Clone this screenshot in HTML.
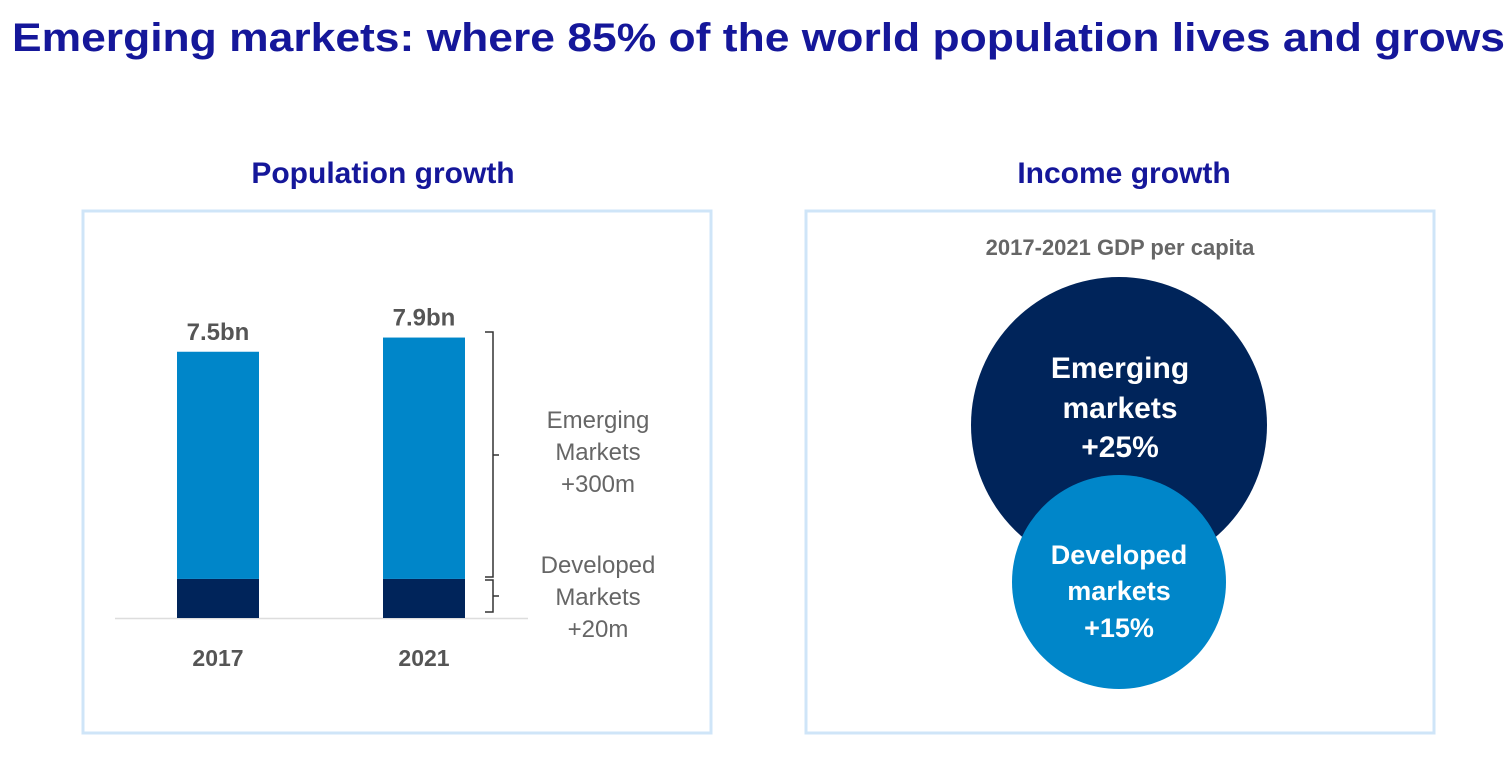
<!DOCTYPE html>
<html><head><meta charset="utf-8"><style>
body{margin:0;background:#fff;width:1512px;height:758px;overflow:hidden;font-family:"Liberation Sans",sans-serif}
</style></head><body>
<svg width="1512" height="758" xmlns="http://www.w3.org/2000/svg">
<text x="12" y="51" font-size="40" font-weight="bold" fill="#15179a" textLength="1493" lengthAdjust="spacingAndGlyphs">Emerging markets: where 85% of the world population lives and grows</text>
<text x="383" y="183" text-anchor="middle" font-size="30" font-weight="bold" fill="#15179a">Population growth</text>
<text x="1124" y="183" text-anchor="middle" font-size="30" font-weight="bold" fill="#15179a">Income growth</text>
<rect x="83" y="211" width="628" height="522" fill="none" stroke="#cfe5f8" stroke-width="3"/>
<rect x="806" y="211" width="628" height="522" fill="none" stroke="#cfe5f8" stroke-width="3"/>
<line x1="115" y1="618.5" x2="528" y2="618.5" stroke="#ddd" stroke-width="1.5"/>
<g id="bars"></g>
<path d="M485 332 H493 V455 L499 455 L493 455 V577 H485 M485 580 H493 V596 L499 596 L493 596 V612 H485" fill="none" stroke="#333" stroke-width="1.5"/>
<g font-size="24" fill="#666" text-anchor="middle">
<text x="598" y="428">Emerging</text><text x="598" y="460">Markets</text><text x="598" y="492">+300m</text>
<text x="598" y="573">Developed</text><text x="598" y="605">Markets</text><text x="598" y="637">+20m</text>
</g>
<text x="1120" y="255" text-anchor="middle" font-size="22" font-weight="bold" fill="#666">2017-2021 GDP per capita</text>
<circle cx="1119" cy="425" r="148" fill="#00245a"/>
<circle cx="1119" cy="582" r="107" fill="#0086c9"/>
<g font-size="30" font-weight="bold" fill="#fff" text-anchor="middle">
<text x="1120" y="378">Emerging</text><text x="1120" y="418">markets</text><text x="1120" y="457">+25%</text></g>
<g font-size="27" font-weight="bold" fill="#fff" text-anchor="middle">
<text x="1119" y="564">Developed</text><text x="1119" y="600">markets</text><text x="1119" y="637">+15%</text></g>
</svg>
<script>
const categories=["2017","2021"];
const developed=[1.1,1.1];
const emerging=[6.4,6.8];
const totalLabels=["7.5bn","7.9bn"];
const g=document.getElementById('bars');
const NS="http://www.w3.org/2000/svg";
const base=618, k=35.5, x0=177, step=206, bw=82;
const y=v=>base-v*k;
function mk(t,a){const e=document.createElementNS(NS,t);for(const n in a)e.setAttribute(n,a[n]);g.appendChild(e);return e;}
categories.forEach((c,i)=>{
 const x=x0+i*step;
 const d=mk('rect',{x:x,y:y(developed[i]),width:bw,height:base-y(developed[i]),fill:'#00245a'});
 
 
 const tot=developed[i]+emerging[i];
 const e=mk('rect',{x:x,y:y(tot),width:bw,height:y(developed[i])-y(tot),fill:'#0086c9'});
 
 
 const l=mk('text',{x:x+bw/2,y:y(tot)-12,'text-anchor':'middle','font-size':24,'font-weight':'bold',fill:'#555'});
 l.textContent=totalLabels[i];
 
 
 const yl=mk('text',{x:x+bw/2,y:666,'text-anchor':'middle','font-size':23,'font-weight':'bold',fill:'#555'});
 yl.textContent=c;
 
 
});
</script>
</body></html>
